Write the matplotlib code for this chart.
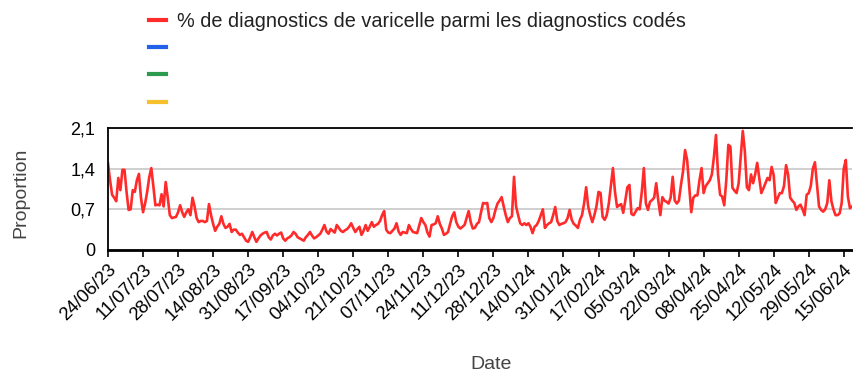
import numpy as np
import pandas as pd
import matplotlib
matplotlib.use("Agg")
import matplotlib.pyplot as plt
import matplotlib.dates as mdates
from matplotlib.lines import Line2D

plt.rcParams['font.family'] = ['Liberation Sans', 'DejaVu Sans']

# daily share of chickenpox among coded diagnoses, from 24/06/23
start = '2023-06-24'
pct_varicelle = [
    1.49, 1.20, 0.95, 0.90, 0.84, 1.24, 1.03, 1.38, 1.38, 1.00,
    0.69, 0.70, 1.03, 1.00, 1.20, 1.31, 0.90, 0.65, 0.80, 1.00,
    1.25, 1.41, 1.10, 0.77, 0.78, 0.77, 0.96, 0.75, 1.17, 0.90,
    0.60, 0.55, 0.56, 0.57, 0.65, 0.77, 0.65, 0.57, 0.65, 0.70,
    0.60, 0.90, 0.75, 0.55, 0.48, 0.50, 0.50, 0.48, 0.50, 0.79,
    0.60, 0.45, 0.33, 0.40, 0.45, 0.58, 0.45, 0.38, 0.40, 0.45,
    0.31, 0.35, 0.35, 0.30, 0.26, 0.28, 0.22, 0.16, 0.14, 0.22,
    0.31, 0.22, 0.14, 0.20, 0.25, 0.28, 0.30, 0.31, 0.22, 0.18,
    0.25, 0.28, 0.25, 0.28, 0.30, 0.20, 0.16, 0.20, 0.22, 0.25,
    0.31, 0.28, 0.22, 0.20, 0.18, 0.16, 0.22, 0.26, 0.31, 0.25,
    0.20, 0.22, 0.25, 0.28, 0.35, 0.43, 0.32, 0.28, 0.36, 0.33,
    0.30, 0.43, 0.38, 0.33, 0.31, 0.34, 0.36, 0.40, 0.46, 0.38,
    0.31, 0.36, 0.40, 0.26, 0.33, 0.43, 0.33, 0.40, 0.48, 0.40,
    0.43, 0.45, 0.50, 0.60, 0.67, 0.35, 0.30, 0.29, 0.33, 0.37,
    0.46, 0.32, 0.26, 0.31, 0.30, 0.29, 0.43, 0.36, 0.31, 0.30,
    0.29, 0.42, 0.55, 0.48, 0.43, 0.30, 0.23, 0.43, 0.44, 0.46,
    0.58, 0.45, 0.37, 0.26, 0.28, 0.31, 0.45, 0.58, 0.65, 0.48,
    0.40, 0.37, 0.40, 0.43, 0.55, 0.67, 0.48, 0.37, 0.38, 0.45,
    0.48, 0.65, 0.81, 0.80, 0.81, 0.55, 0.48, 0.55, 0.69, 0.80,
    0.85, 0.91, 0.75, 0.60, 0.48, 0.55, 0.58, 1.26, 0.75, 0.60,
    0.46, 0.43, 0.46, 0.43, 0.46, 0.40, 0.29, 0.40, 0.43, 0.50,
    0.60, 0.70, 0.38, 0.43, 0.46, 0.48, 0.60, 0.74, 0.50, 0.43,
    0.45, 0.46, 0.48, 0.55, 0.69, 0.52, 0.45, 0.42, 0.38, 0.52,
    0.60, 0.80, 1.08, 0.75, 0.60, 0.48, 0.60, 0.75, 1.00, 0.98,
    0.57, 0.52, 0.60, 0.80, 1.10, 1.41, 1.00, 0.74, 0.77, 0.79,
    0.64, 0.85, 1.08, 1.12, 0.62, 0.60, 0.66, 0.72, 0.70, 1.00,
    1.41, 0.80, 0.69, 0.83, 0.86, 0.90, 1.15, 0.85, 0.60, 0.91,
    0.85, 0.83, 0.80, 0.90, 1.26, 0.85, 0.80, 0.85, 1.12, 1.35,
    1.72, 1.55, 1.10, 0.65, 0.90, 0.94, 0.94, 1.20, 1.41, 0.98,
    1.10, 1.15, 1.20, 1.30, 1.60, 1.98, 1.30, 0.95, 0.92, 0.77,
    1.20, 1.81, 1.78, 1.07, 1.02, 0.98, 1.15, 1.60, 2.05, 1.70,
    1.08, 1.03, 1.30, 1.15, 1.30, 1.50, 1.24, 0.98, 1.06, 1.15,
    1.24, 1.20, 1.43, 1.29, 0.81, 0.90, 0.98, 0.98, 1.10, 1.46,
    1.30, 0.90, 0.85, 0.81, 0.69, 0.75, 0.78, 0.70, 0.60, 0.95,
    0.98, 1.10, 1.40, 1.51, 1.14, 0.75, 0.69, 0.66, 0.70, 0.81,
    1.20, 0.84, 0.70, 0.60, 0.60, 0.63, 0.81, 1.40, 1.55, 0.92,
    0.72, 0.75,
]
dates = pd.date_range(start, periods=len(pct_varicelle), freq='D')
tick_dates = pd.date_range(start, '2024-06-15', freq='17D')
y_ticks = [0, 0.7, 1.4, 2.1]
y_ticklabels = ['0', '0,7', '1,4', '2,1']

fig = plt.figure(figsize=(8.54, 3.74), dpi=100)
ax = fig.add_axes([108/854, 124/374, 744/854, 122/374])

ax.plot(dates, pct_varicelle, color='#ff2b2b', linewidth=1.9)

ax.set_ylim(0, 2.1)
ax.set_xlim(dates[0], dates[-1])
ax.set_yticks(y_ticks)
ax.set_yticklabels(y_ticklabels, fontsize=13)
ax.tick_params(axis='y', length=0, pad=9)
ax.set_xticks(tick_dates)
ax.xaxis.set_major_formatter(mdates.DateFormatter('%d/%m/%y'))
ax.tick_params(axis='x', length=5, width=1.2, labelsize=13.3, direction='out', pad=3)
plt.setp(ax.get_xticklabels(), rotation=45, ha='right', rotation_mode='anchor')
ax.yaxis.grid(True, color='#cccccc', linewidth=1.3)
ax.set_axisbelow(True)
for side in ['top', 'left']:
    ax.spines[side].set_linewidth(1.3)
ax.spines['bottom'].set_linewidth(2)
ax.spines['right'].set_visible(False)

ax.set_ylabel('Proportion', fontsize=14, color='#444444')
ax.yaxis.set_label_coords(-0.106, 0.47)
ax.set_xlabel('Date', fontsize=14, color='#444444')
ax.xaxis.set_label_coords(0.515, -0.87)

handles = [Line2D([], [], color=c, linewidth=3) for c in ['#ff2b2b', '#2162e8', '#2e9a4e', '#f7c12d']]
labels = ['% de diagnostics de varicelle parmi les diagnostics codés', '', '', '']
fig.legend(handles, labels, loc='upper left', bbox_to_anchor=(0.153, 1.017),
           frameon=False, fontsize=14.3, handlelength=0.87, handletextpad=0.55,
           labelspacing=0.42, labelcolor='#222222')

fig.savefig('out.png', dpi=100)
